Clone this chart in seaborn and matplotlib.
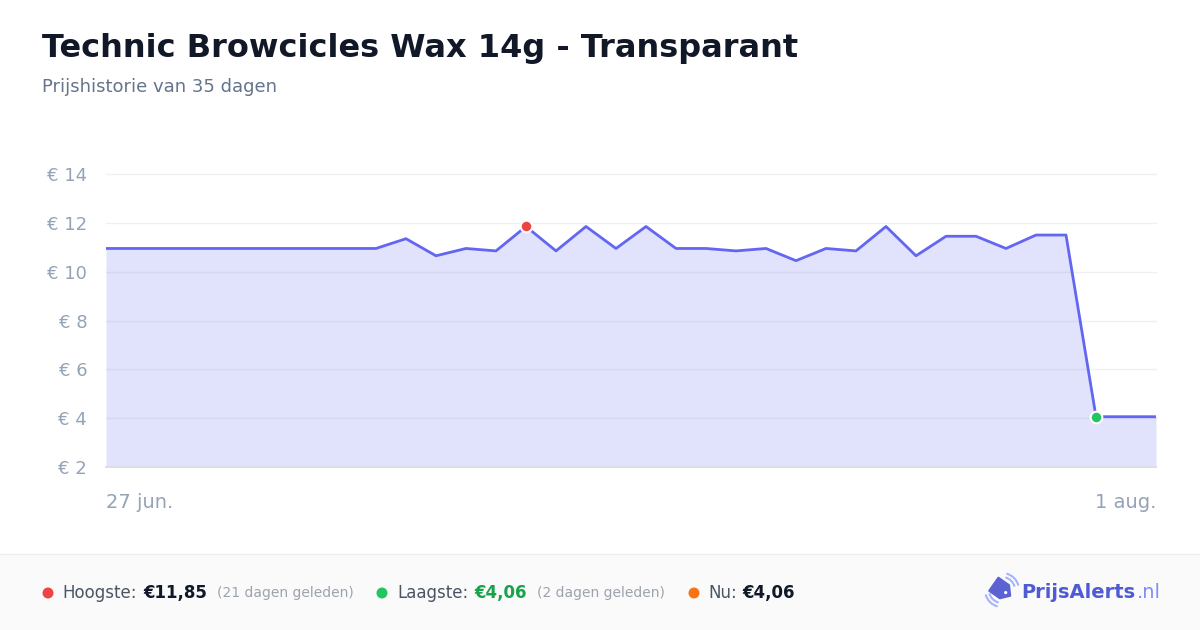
import matplotlib
matplotlib.use("Agg")
import matplotlib.pyplot as plt
import matplotlib.patches as mpatches
from matplotlib.transforms import IdentityTransform
import numpy as np
import pandas as pd
import seaborn as sns

# ---- data ----
prices = [10.95, 10.95, 10.95, 10.95, 10.95, 10.95, 10.95, 10.95, 10.95, 10.95,
          11.35, 10.65, 10.95, 10.85, 11.85, 10.85, 11.85, 10.95, 11.85, 10.95,
          10.95, 10.85, 10.95, 10.45, 10.95, 10.85, 11.85, 10.65, 11.45, 11.45,
          10.95, 11.5, 11.5, 4.06, 4.06, 4.06]
days = list(range(len(prices)))
x_tick_labels = ["27 jun.", "1 aug."]
y_ticks = [2, 4, 6, 8, 10, 12, 14]
title = "Technic Browcicles Wax 14g - Transparant"
subtitle = "Prijshistorie van 35 dagen"

df = pd.DataFrame({"day": days, "price": prices})
imax = int(np.argmax(prices))
imin = int(np.argmin(prices))

sns.set_theme(style="white")
plt.rcParams["font.family"] = ["DejaVu Sans"]

W, H = 1200, 630
fig = plt.figure(figsize=(W / 100, H / 100), dpi=100)
fig.patch.set_facecolor("white")

def fx(x):
    return x / W

def fy(y):
    return 1 - y / H

# footer band
fig.patches.append(mpatches.Rectangle((0, 0), 1, fy(554), transform=fig.transFigure,
                                      facecolor="#fafafa", edgecolor="none", zorder=0))
fig.lines.append(plt.Line2D([0, 1], [fy(554), fy(554)], transform=fig.transFigure,
                            color="#eeeeee", lw=1))

ax = fig.add_axes([fx(106), fy(467), fx(1156) - fx(106), fy(174) - fy(467)])
ax.set_facecolor("none")

line_color = "#6366f1"
ax.fill_between(df["day"], df["price"], 2, color=line_color, alpha=0.19, lw=0, zorder=1)
sns.lineplot(data=df, x="day", y="price", ax=ax, color=line_color, lw=2.0, zorder=3)
sns.scatterplot(x=[days[imax]], y=[prices[imax]], ax=ax, color="#ef4444", s=70,
                edgecolor="white", linewidth=1.5, zorder=5, clip_on=False)
sns.scatterplot(x=[days[imin]], y=[prices[imin]], ax=ax, color="#22c55e", s=70,
                edgecolor="white", linewidth=1.5, zorder=5, clip_on=False)

ax.set_xlim(0, len(prices) - 1)
ax.set_ylim(2, 14)
ax.set_yticks(y_ticks)
ax.set_yticklabels([f"€ {v}" for v in y_ticks])
ax.set_xticks([0, len(prices) - 1])
ax.set_xticklabels(x_tick_labels)
xl = ax.get_xticklabels()
xl[0].set_ha("left")
xl[1].set_ha("right")
ax.tick_params(axis="x", length=0, pad=19, labelsize=14, labelcolor="#94a3b8")
ax.tick_params(axis="y", length=0, pad=13.5, labelsize=13, labelcolor="#94a3b8")
for v in y_ticks[1:]:
    ax.axhline(v, color="#e5e7eb", lw=1, alpha=0.6, zorder=0.5, clip_on=False)
ax.set_xlabel("")
ax.set_ylabel("")
for s in ["top", "right", "left"]:
    ax.spines[s].set_visible(False)
ax.spines["bottom"].set_color("#dcdee6")
ax.spines["bottom"].set_linewidth(1.4)
ax.spines["bottom"].set_zorder(4)

# titles
fig.text(fx(42), fy(48), title, fontsize=23, fontweight="bold", color="#111827",
         va="center", ha="left")
fig.text(fx(42), fy(87), subtitle, fontsize=13, color="#64748b", va="center", ha="left")

# footer
yc = fy(593)
for x, c in [(48, "#ef4444"), (382, "#22c55e"), (694, "#f97316")]:
    fig.patches.append(mpatches.Circle((x, H - 593), 5.5, transform=IdentityTransform(),
                                       facecolor=c, edgecolor="none"))

fig.text(fx(62), yc, "Hoogste:", fontsize=12, color="#4b5563", va="center")
fig.text(fx(143), yc, "€11,85", fontsize=12, fontweight="bold", color="#111827", va="center")
fig.text(fx(217), yc, "(21 dagen geleden)", fontsize=10, color="#9ca3af", va="center")
fig.text(fx(397), yc, "Laagste:", fontsize=12, color="#4b5563", va="center")
fig.text(fx(474), yc, "€4,06", fontsize=12, fontweight="bold", color="#16a34a", va="center")
fig.text(fx(537), yc, "(2 dagen geleden)", fontsize=10, color="#9ca3af", va="center")
fig.text(fx(708), yc, "Nu:", fontsize=12, color="#4b5563", va="center")
fig.text(fx(742), yc, "€4,06", fontsize=12, fontweight="bold", color="#111827", va="center")

# logo
fig.text(fx(1021), yc, "PrijsAlerts", fontsize=14, fontweight="bold", color="#4f5bd5", va="center")
fig.text(fx(1137), yc, ".nl", fontsize=14, color="#818cf8", va="center")
# tag icon
cx, cy = 1002, H - 590
ang = np.deg2rad(-35)
pts = np.array([[-10, -8], [3, -8], [10, 0], [3, 8], [-10, 8]], dtype=float)
R = np.array([[np.cos(ang), -np.sin(ang)], [np.sin(ang), np.cos(ang)]])
pts = pts @ R.T + [cx, cy]
fig.patches.append(mpatches.Polygon(pts, closed=True, transform=IdentityTransform(),
                                    facecolor="#5b63d3", edgecolor="#5b63d3", lw=1.5,
                                    joinstyle="round"))
hole = np.array([4.5, 0]) @ R.T + [cx, cy]
fig.patches.append(mpatches.Circle(tuple(hole), 1.6, transform=IdentityTransform(),
                                   facecolor="white", edgecolor="none"))
for r in (13, 17):
    fig.patches.append(mpatches.Arc((cx, cy), 2 * r, 2 * r, theta1=15, theta2=75,
                                    transform=IdentityTransform(), color="#a5b4fc", lw=1.5))
    fig.patches.append(mpatches.Arc((cx, cy), 2 * r, 2 * r, theta1=195, theta2=255,
                                    transform=IdentityTransform(), color="#a5b4fc", lw=1.5))

fig.savefig("out.png", dpi=100)
